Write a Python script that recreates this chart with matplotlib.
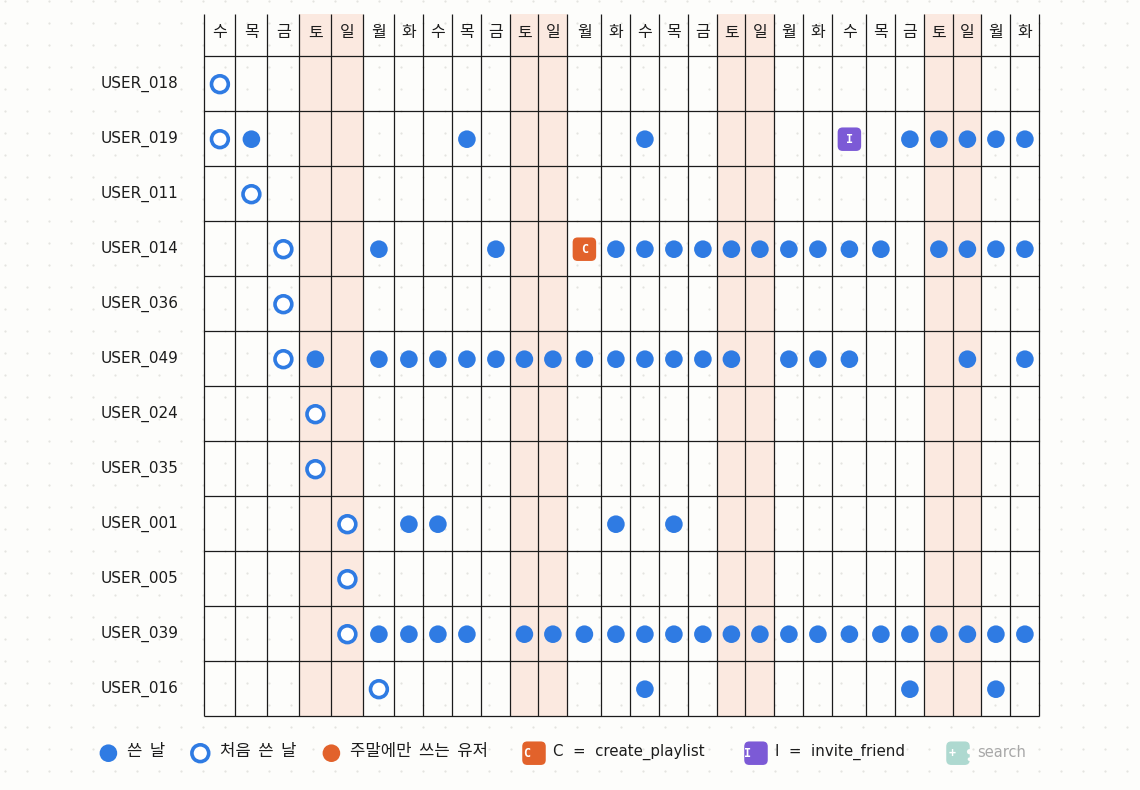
import matplotlib
matplotlib.use("Agg")
import matplotlib.pyplot as plt
from matplotlib.patches import FancyBboxPatch, Circle

KR = ['Noto Sans CJK KR', 'DejaVu Sans']
LAT = ['DejaVu Sans']
plt.rcParams['font.family'] = KR

W, H = 1140, 790

days = ['수','목','금','토','일','월','화','수','목','금','토','일','월','화',
        '수','목','금','토','일','월','화','수','목','금','토','일','월','화']
users = ['USER_018','USER_019','USER_011','USER_014','USER_036','USER_049',
         'USER_024','USER_035','USER_001','USER_005','USER_039','USER_016']
weekend_days = [3,4,10,11,17,18,24,25]

first_day = [0,0,1,2,2,2,3,3,4,4,4,5]
used_days = [
    [],
    [1,8,14,23,24,25,26,27],
    [],
    [5,9,13,14,15,16,17,18,19,20,21,22,24,25,26,27],
    [],
    [3,5,6,7,8,9,10,11,12,13,14,15,16,17,19,20,21,25,27],
    [],
    [],
    [6,7,13,15],
    [],
    [5,6,7,8,10,11,12,13,14,15,16,17,18,19,20,21,22,23,24,25,26,27],
    [14,23,26],
]
event_cells = [(1,21,'I'),(3,12,'C')]
event_colors = {'C':'#E2622B','I':'#7C5AD6'}

legend_labels = ['쓴  날','처음  쓴  날','주말에만  쓰는  유저','C  =  create_playlist','I  =  invite_friend','search']

# layout in pixels
col_edges = [204,235,267,299,331,363,394,423,452,481,510,538,567,601,630,659,688,717,
             745,774,803,832,866,895,924,953,981,1010,1039]
row_edges = [56+55*i for i in range(13)]
header_top = 14

BLUE = '#2F7BE3'
INK = '#1c1c1c'
BG = '#FDFDFB'

fig = plt.figure(figsize=(W/100, H/100), dpi=100, facecolor=BG)
ax = fig.add_axes([0,0,1,1])
ax.set_xlim(0,W); ax.set_ylim(H,0); ax.axis('off')

# dotted paper background
dot_x = list(range(5, W, 22))
for yy in range(1, H, 22):
    ax.scatter(dot_x, [yy]*len(dot_x), s=2.6, c='#E4E4E0', linewidths=0, zorder=0)

cx = [(col_edges[i]+col_edges[i+1])/2+0.4 for i in range(len(days))]
cy = [(row_edges[i]+row_edges[i+1])/2+0.7 for i in range(len(users))]

# weekend shading
for d in weekend_days:
    ax.fill_between([col_edges[d],col_edges[d+1]], header_top, row_edges[-1],
                    color='#FBE9E0', lw=0, zorder=1)

# grid lines
for x in col_edges:
    ax.plot([x,x],[header_top,row_edges[-1]], color=INK, lw=0.9, zorder=2, solid_capstyle='butt')
for y in row_edges:
    ax.plot([col_edges[0],col_edges[-1]],[y,y], color=INK, lw=0.9, zorder=2, solid_capstyle='butt')

for x,t in zip(cx,days):
    ax.text(x,33,t,ha='center',va='center',fontsize=11.5,color=INK,zorder=4)
for y,u in zip(cy,users):
    ax.text(101,y-0.5,u,ha='left',va='center',fontsize=11,color=INK,zorder=4,family=LAT)

def dot(x,y,r=8.8,color=BLUE):
    ax.add_patch(Circle((x,y),r,fc=color,ec='none',zorder=3))
def ring(x,y):
    ax.add_patch(Circle((x,y),8.4,fc='white',ec=BLUE,lw=2.6,zorder=3))
def badge(x,y,color,t,tc='white',tx=None):
    s = 23.5
    ax.add_patch(FancyBboxPatch((x-s/2+5,y-s/2+5),s-10,s-10,boxstyle='round,pad=5,rounding_size=5',
                                fc=color,ec='none',zorder=3))
    ax.text(x if tx is None else tx,y,t,ha='center',va='center',fontsize=8.5,color=tc,
            fontweight='bold',family=['DejaVu Sans Mono'],zorder=4)

for r,(f,us) in enumerate(zip(first_day,used_days)):
    ring(cx[f],cy[r])
    for d in us:
        dot(cx[d],cy[r])
for r,d,t in event_cells:
    badge(cx[d],cy[r],event_colors[t],t)

# legend
ly = 753.2
dot(108.4,ly)
ax.text(127,ly-1.5,legend_labels[0],ha='left',va='center',fontsize=12,color=INK)
ring(200.3,ly)
ax.text(220,ly-1.5,legend_labels[1],ha='left',va='center',fontsize=12,color=INK)
dot(331.4,ly,color='#E2622B')
ax.text(350,ly-1.5,legend_labels[2],ha='left',va='center',fontsize=12,color=INK)
badge(534,ly,event_colors['C'],'C',tx=527)
ax.text(553,ly-1,legend_labels[3],ha='left',va='center',fontsize=10.8,color=INK,family=LAT)
badge(756,ly,event_colors['I'],'I',tx=748)
ax.text(775,ly-1,legend_labels[4],ha='left',va='center',fontsize=10.8,color=INK,family=LAT)
badge(958,ly,'#AED9D0','+',tx=952.5)
ax.add_patch(Circle((969.5,ly-1.5),2.6,fc=BG,ec='none',zorder=4))
ax.add_patch(Circle((969.5,ly+6),1.8,fc=BG,ec='none',zorder=4))
ax.text(977,ly-1,legend_labels[5],ha='left',va='center',fontsize=10.5,color='#A8A8A8',family=LAT)

fig.savefig('out.png',dpi=100,facecolor=BG)
